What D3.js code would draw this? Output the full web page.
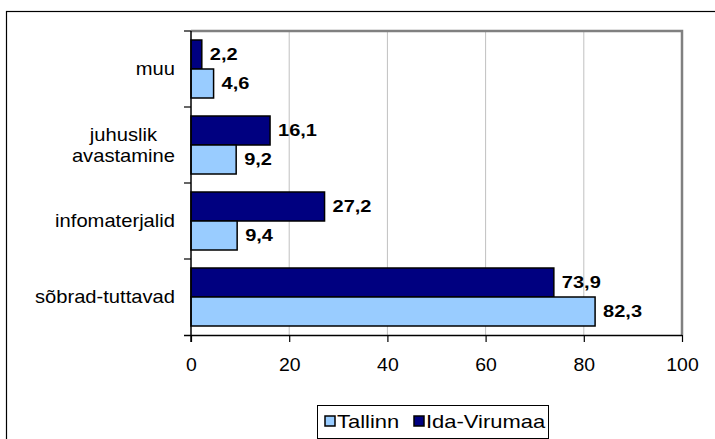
<!DOCTYPE html>
<html>
<head>
<meta charset="utf-8">
<script src="https://cdn.jsdelivr.net/npm/d3@7"></script>
<style>
  body { margin: 0; background: #fff; }
  svg { display: block; }
  text { font-family: "Liberation Sans", Arial, sans-serif; fill: #000; }
</style>
</head>
<body>
<script>
// Data
const categories = [["muu"], ["juhuslik", "avastamine"], ["infomaterjalid"], ["sõbrad-tuttavad"]];
const seriesNames = ["Tallinn", "Ida-Virumaa"];
const tallinn = [4.6, 9.2, 9.4, 82.3];
const idaVirumaa = [2.2, 16.1, 27.2, 73.9];
const xTicks = [0, 20, 40, 60, 80, 100];

const W = 715, H = 439;
const plot = { left: 191, right: 682, top: 31, bottom: 335 };
const colors = { "Tallinn": "#99ccff", "Ida-Virumaa": "#000080" };

const svg = d3.select("body").append("svg")
  .attr("width", W)
  .attr("height", H);

// outer chart border (runs off the right and bottom edges)
svg.append("rect")
  .attr("x", 6.5).attr("y", 11.5)
  .attr("width", 720).attr("height", 440)
  .attr("fill", "none")
  .attr("stroke", "#000")
  .attr("stroke-width", 1.2);

const x = d3.scaleLinear().domain([0, 100]).range([plot.left, plot.right]);
const y = d3.scaleBand()
  .domain(categories.map(c => c.join(" ")))
  .range([plot.top, plot.bottom]);
const yInner = d3.scaleBand()
  .domain(["Ida-Virumaa", "Tallinn"])
  .range([9, y.bandwidth() - 9]);

// gridlines
svg.append("g")
  .selectAll("line")
  .data(xTicks.slice(1, -1))
  .join("line")
  .attr("x1", d => x(d)).attr("x2", d => x(d))
  .attr("y1", plot.top).attr("y2", plot.bottom)
  .attr("stroke", "#c0c0c0")
  .attr("stroke-width", 1);

// plot area frame: grey top and right
svg.append("path")
  .attr("d", `M${plot.left},${plot.top}H${plot.right}V${plot.bottom}`)
  .attr("fill", "none")
  .attr("stroke", "#808080")
  .attr("stroke-width", 2.5);

// bars
const rows = categories.map((c, i) => ({
  key: c.join(" "),
  values: [
    { name: "Ida-Virumaa", v: idaVirumaa[i] },
    { name: "Tallinn", v: tallinn[i] }
  ]
}));

const groups = svg.append("g")
  .selectAll("g")
  .data(rows)
  .join("g")
  .attr("transform", d => `translate(0,${y(d.key)})`);

groups.selectAll("rect")
  .data(d => d.values)
  .join("rect")
  .attr("x", x(0))
  .attr("y", d => yInner(d.name))
  .attr("width", d => x(d.v) - x(0))
  .attr("height", yInner.bandwidth())
  .attr("fill", d => colors[d.name])
  .attr("stroke", "#000")
  .attr("stroke-width", 1.5);

// value labels (text in the picture is a bit wider than Arial, hence the x-stretch)
groups.selectAll("text")
  .data(d => d.values)
  .join("text")
  .attr("transform", d =>
    `translate(${x(d.v) + 8},${yInner(d.name) + yInner.bandwidth() / 2}) scale(1.25,1)`)
  .attr("dy", "0.36em")
  .style("font-size", "16px")
  .style("font-weight", "bold")
  .text(d => String(d.v).replace(".", ","));

// x axis
const xAxis = svg.append("g")
  .attr("transform", `translate(0,${plot.bottom})`)
  .call(d3.axisBottom(x).tickValues(xTicks).tickSize(7).tickPadding(16).tickSizeOuter(0));
xAxis.select(".domain").attr("stroke", "#000").attr("stroke-width", 1.5)
  .attr("d", `M${plot.left - 7},0.5H${plot.right}`);
xAxis.selectAll(".tick line").attr("stroke", "#000").attr("stroke-width", 1.2);
xAxis.selectAll(".tick text")
  .attr("transform", "scale(1.08,1)")
  .style("font-size", "18px")
  .style("font-family", "'Liberation Sans', Arial, sans-serif");

// y axis line and ticks between categories
svg.append("line")
  .attr("x1", plot.left).attr("x2", plot.left)
  .attr("y1", plot.top).attr("y2", plot.bottom + 7)
  .attr("stroke", "#000").attr("stroke-width", 1.5);
svg.append("g")
  .selectAll("line")
  .data(categories.map(c => c.join(" ")))
  .join("line")
  .attr("x1", plot.left - 7).attr("x2", plot.left)
  .attr("y1", d => y(d)).attr("y2", d => y(d))
  .attr("stroke", "#000").attr("stroke-width", 1.2);

// category labels: block right-aligned at x=175, lines centred within block
const catLabels = svg.append("g")
  .selectAll("text")
  .data(categories)
  .join("text")
  .attr("text-anchor", "middle")
  .style("font-size", "18px");
catLabels.selectAll("tspan")
  .data(c => c.map((line, i) => ({ line, i, n: c.length })))
  .join("tspan")
  .attr("x", 0)
  .attr("y", d => (d.i - (d.n - 1) / 2) * 21)
  .attr("dy", "0.36em")
  .text(d => d.line);
catLabels.attr("transform", function (c) {
  const maxW = d3.max(d3.select(this).selectAll("tspan").nodes(), n => n.getComputedTextLength()) * 1.12;
  return `translate(${175 - maxW / 2},${y(c.join(" ")) + y.bandwidth() / 2}) scale(1.12,1)`;
});

// legend
const legend = svg.append("g").attr("transform", "translate(317,405)");
legend.append("rect")
  .attr("x", 0.5).attr("y", 0.5)
  .attr("width", 231).attr("height", 33)
  .attr("fill", "#fff")
  .attr("stroke", "#000")
  .attr("stroke-width", 1);
const items = legend.selectAll("g.item")
  .data(seriesNames)
  .join("g")
  .attr("class", "item")
  .attr("transform", (d, i) => `translate(${[8, 97][i]},0)`);
items.append("rect")
  .attr("x", 0).attr("y", 11)
  .attr("width", 10).attr("height", 10)
  .attr("fill", d => colors[d])
  .attr("stroke", "#000")
  .attr("stroke-width", 1.5);
items.append("text")
  .attr("transform", "translate(12,17) scale(1.22,1)")
  .attr("dy", "0.36em")
  .style("font-size", "18px")
  .text(d => d);
</script>
</body>
</html>
